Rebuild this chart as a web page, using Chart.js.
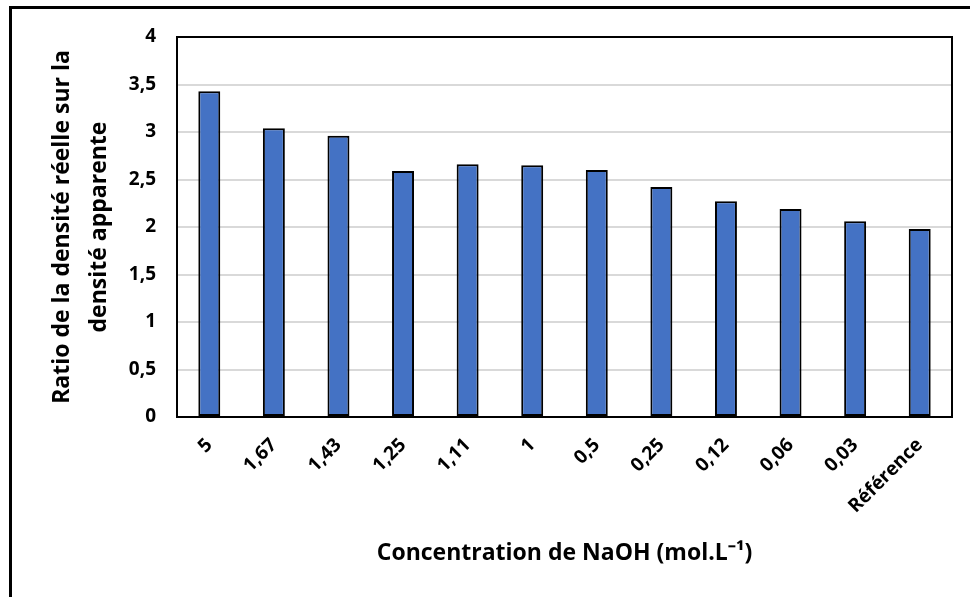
<!DOCTYPE html>
<html>
<head>
<meta charset="utf-8">
<script src="https://cdn.jsdelivr.net/npm/chart.js@4/dist/chart.umd.min.js"></script>
<style>
  html, body { margin: 0; padding: 0; background: #fff; }
  canvas { display: block; }
</style>
</head>
<body>
<canvas id="ratioChart" width="970" height="597"></canvas>
<script>
// NaOH concentrations (mol/L) and density ratio per sample
const concentrations = ['5', '1,67', '1,43', '1,25', '1,11', '1', '0,5', '0,25', '0,12', '0,06', '0,03', 'Référence'];
const ratios = [3.43, 3.04, 2.96, 2.59, 2.66, 2.65, 2.60, 2.42, 2.27, 2.19, 2.06, 1.98];
const yTicks = [0, 0.5, 1, 1.5, 2, 2.5, 3, 3.5, 4];

const FONT = '"Open Sans", "Liberation Sans", sans-serif';
const PAD_LEFT = 44;

// frame around the plot + the outer top/left rule
const framePlugin = {
  id: 'frame',
  afterDraw(chart) {
    const { ctx, chartArea: a } = chart;
    ctx.save();
    ctx.strokeStyle = '#000';
    ctx.lineWidth = 2;
    ctx.strokeRect(a.left, a.top, a.right - a.left, a.bottom - a.top);
    ctx.lineWidth = 3;
    ctx.beginPath();
    ctx.moveTo(10.5, 597);
    ctx.lineTo(10.5, 7.5);
    ctx.lineTo(970, 7.5);
    ctx.stroke();
    ctx.restore();
  }
};

new Chart(document.getElementById('ratioChart'), {
  type: 'bar',
  data: {
    labels: concentrations,
    datasets: [{
      data: ratios,
      backgroundColor: '#4472c4',
      borderColor: '#000',
      borderWidth: 2,
      borderSkipped: false,
      barPercentage: 0.34,
      categoryPercentage: 1
    }]
  },
  options: {
    responsive: false,
    animation: false,
    layout: { padding: { left: PAD_LEFT, top: 37, right: 18, bottom: 30 } },
    plugins: {
      legend: { display: false },
      tooltip: { enabled: false }
    },
    scales: {
      x: {
        grid: { display: false },
        border: { color: '#000', width: 2 },
        ticks: {
          color: '#000',
          font: { family: FONT, size: 19, weight: 'bold' },
          minRotation: 45,
          maxRotation: 45,
          padding: 9
        },
        title: {
          display: true,
          text: 'Concentration de NaOH (mol.L⁻¹)',
          color: '#000',
          font: { family: FONT, size: 23, weight: 'bold' },
          padding: { top: 0, bottom: 0 }
        },
        afterFit(scale) { scale.height = 597 - 417 - 30; }
      },
      y: {
        min: 0,
        max: 4,
        afterBuildTicks(scale) { scale.ticks = yTicks.map(v => ({ value: v })); },
        grid: { color: '#d9d9d9', lineWidth: 2, drawTicks: false },
        border: { color: '#000', width: 2 },
        ticks: {
          color: '#000',
          font: { family: FONT, size: 19, weight: 'bold' },
          padding: 21,
          callback: v => String(v).replace('.', ',')
        },
        title: {
          display: true,
          text: ['Ratio de la densité réelle sur la', 'densité apparente'],
          color: '#000',
          font: { family: FONT, size: 23, weight: 'bold', lineHeight: 1.6 },
          padding: { top: 0, bottom: 0 }
        },
        afterFit(scale) { scale.width = 177 - PAD_LEFT; }
      }
    }
  },
  plugins: [framePlugin]
});
</script>
</body>
</html>
